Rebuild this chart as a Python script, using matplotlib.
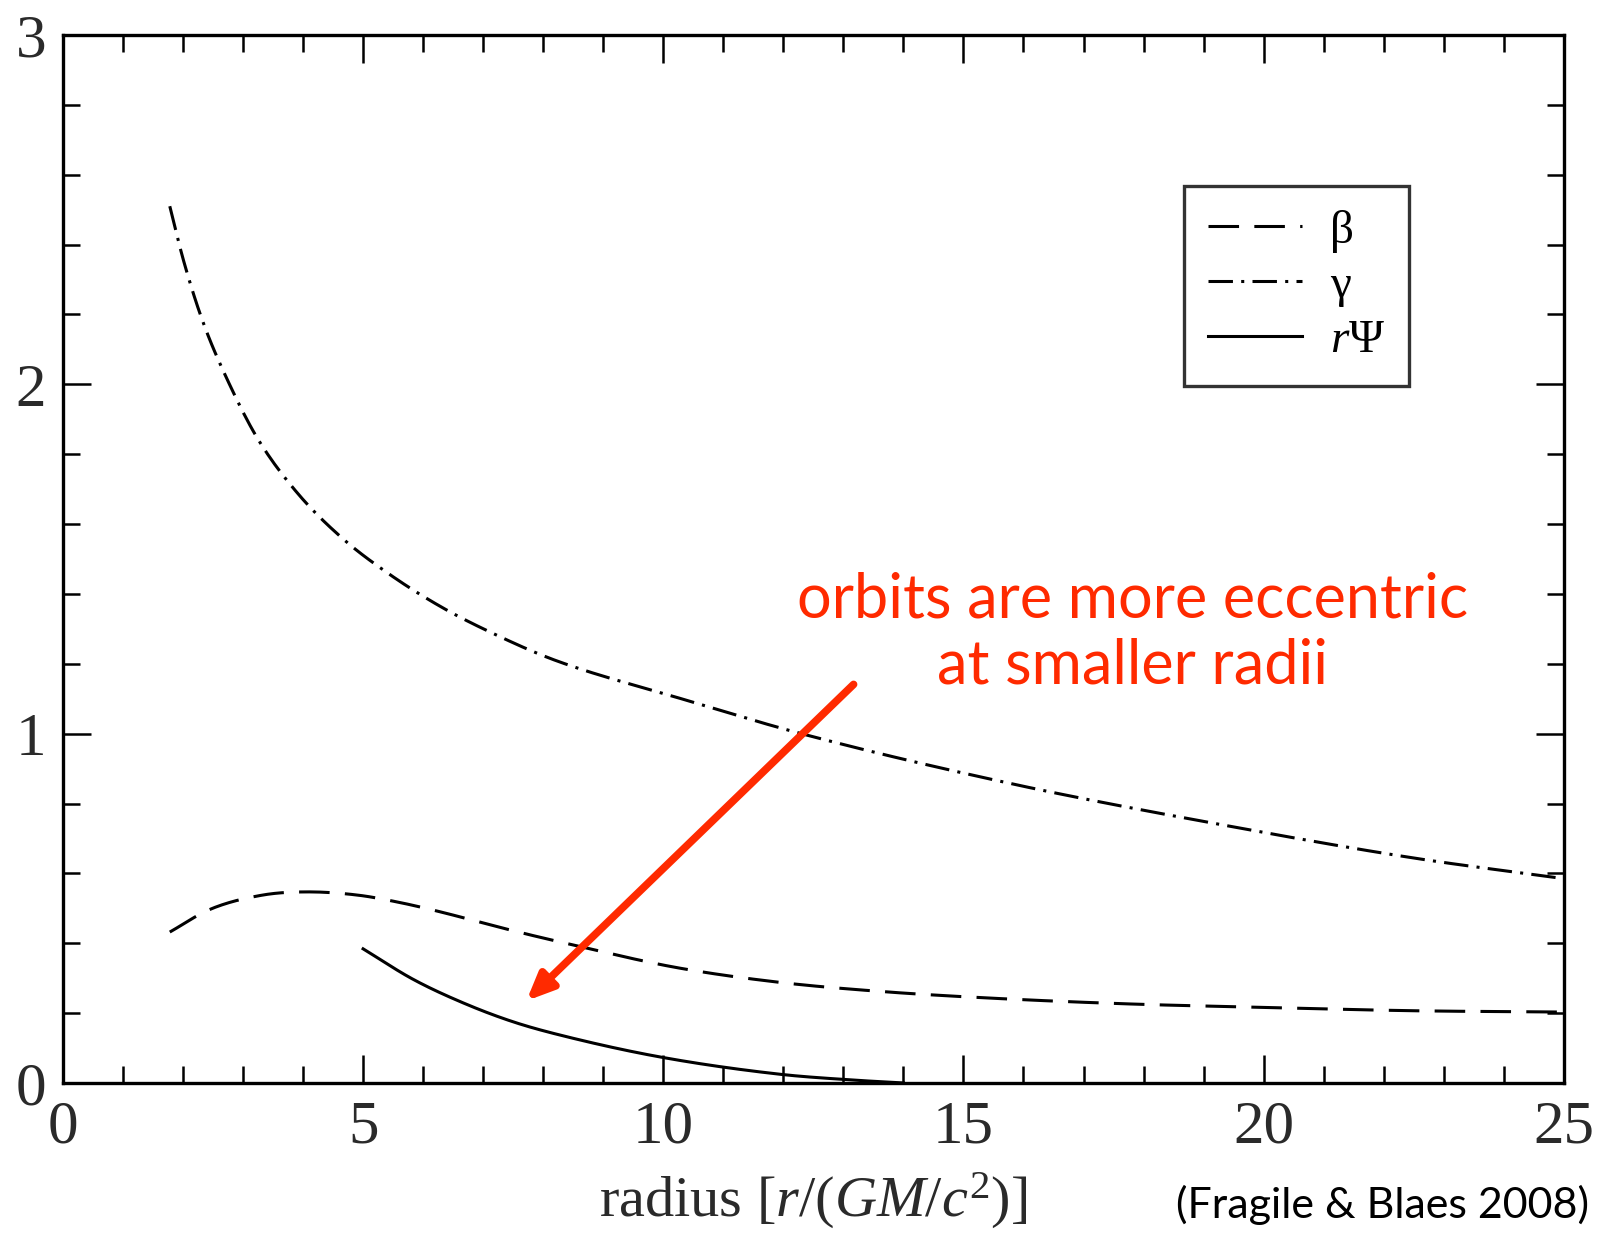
import numpy as np
import matplotlib
matplotlib.use("Agg")
import matplotlib.pyplot as plt
from matplotlib.ticker import MultipleLocator

plt.rcParams['mathtext.fontset'] = 'custom'
plt.rcParams['mathtext.rm'] = 'Liberation Serif'
plt.rcParams['mathtext.it'] = 'Liberation Serif:italic'

# tilt, twist and r*Psi against radius
r_gamma = [1.78, 2.0, 2.33, 2.83, 3.26, 3.9, 4.65, 5.45, 6.33, 7.25, 8.2,
           10.3, 12.3, 15.9, 19.5, 22.5, 25.0]
gamma = [2.51, 2.36, 2.18, 1.98, 1.84, 1.69, 1.56, 1.455, 1.36, 1.28, 1.21,
         1.10, 1.0, 0.853, 0.733, 0.644, 0.585]

r_beta = [1.78, 2.45, 3.33, 4.06, 4.9, 5.6, 6.33, 7.06, 7.78, 8.45, 10.2,
          11.94, 13.7, 15.44, 17.8, 20.1, 22.4, 25.0]
beta = [0.432, 0.497, 0.538, 0.547, 0.538, 0.517, 0.488, 0.455, 0.424, 0.397,
        0.331, 0.288, 0.261, 0.243, 0.226, 0.216, 0.207, 0.203]

r_psi = [5.0, 5.83, 6.67, 7.5, 8.33, 9.96, 11.94, 13.1, 14.0]
rpsi = [0.384, 0.297, 0.229, 0.175, 0.135, 0.074, 0.025, 0.009, 0.0]


def smooth(xs, ys, n=400):
    # cubic Hermite through the points, slopes from neighbouring secants
    xs = np.asarray(xs, dtype=float)
    ys = np.asarray(ys, dtype=float)
    xx = np.linspace(xs[0], xs[-1], n)
    d = np.diff(ys) / np.diff(xs)
    m = np.empty_like(ys)
    m[1:-1] = (d[:-1] + d[1:]) / 2
    m[0], m[-1] = d[0], d[-1]
    idx = np.clip(np.searchsorted(xs, xx) - 1, 0, len(xs) - 2)
    h = xs[idx + 1] - xs[idx]
    t = (xx - xs[idx]) / h
    h00 = 2*t**3 - 3*t**2 + 1
    h10 = t**3 - 2*t**2 + t
    h01 = -2*t**3 + 3*t**2
    h11 = t**3 - t**2
    yy = h00*ys[idx] + h10*h*m[idx] + h01*ys[idx+1] + h11*h*m[idx+1]
    return xx, yy


fig = plt.figure(figsize=(15.97, 12.34), dpi=100)
ax = fig.add_axes([0.0394, 0.1224, 0.9398, 0.8492])

lw = 2.2
x, y = smooth(r_beta, beta)
ax.plot(x, y, color='black', lw=lw, linestyle=(0, (10, 5)), label='β')
x, y = smooth(r_gamma, gamma)
ax.plot(x, y, color='black', lw=lw, linestyle=(0, (8, 2.7, 1, 2.7)), label='γ')
x, y = smooth(r_psi, rpsi)
ax.plot(x, y, color='black', lw=lw, linestyle='-', label=r'$r\Psi$')

ax.set_xlim(0, 25)
ax.set_ylim(0, 3)
ax.xaxis.set_major_locator(MultipleLocator(5))
ax.xaxis.set_minor_locator(MultipleLocator(1))
ax.yaxis.set_major_locator(MultipleLocator(1))
ax.yaxis.set_minor_locator(MultipleLocator(0.2))
ax.tick_params(which='both', direction='in', top=True, right=True,
               width=1.8, colors='black')
ax.tick_params(which='major', length=20, labelsize=44, pad=12)
ax.tick_params(which='minor', length=12)
for lab in ax.get_xticklabels() + ax.get_yticklabels():
    lab.set_family('Liberation Serif')
    lab.set_color('#2a2a2a')
for sp in ax.spines.values():
    sp.set_linewidth(2.4)

ax.text(0.50, -0.113, r'radius $[r/(GM/c^2)]$', transform=ax.transAxes,
        fontsize=42, family='Liberation Serif', color='#2a2a2a',
        ha='center', va='center')

leg = ax.legend(loc='upper left', bbox_to_anchor=(0.747, 0.856), borderaxespad=0,
                fancybox=False, frameon=True, handlelength=2.0, labelspacing=0.25,
                prop={'family': 'Liberation Serif', 'size': 34},
                borderpad=0.5, handletextpad=0.6)
leg.get_frame().set_edgecolor('black')
leg.get_frame().set_linewidth(2.4)

red = '#ff2a00'
ax.text(17.82, 1.288, 'orbits are more eccentric\nat smaller radii', color=red,
        fontsize=44, family='Lato', ha='center', va='center', linespacing=1.2)
ax.annotate('', xy=(7.72, 0.235), xytext=(13.17, 1.141),
            arrowprops=dict(arrowstyle='-|>,head_length=1.6,head_width=0.7',
                            color=red, lw=5.5, shrinkA=0, shrinkB=0))

fig.text(0.995, 0.0235, '(Fragile & Blaes 2008)', fontsize=31, family='Lato',
         ha='right', va='center', color='black')

fig.savefig('out.png', dpi=100)
